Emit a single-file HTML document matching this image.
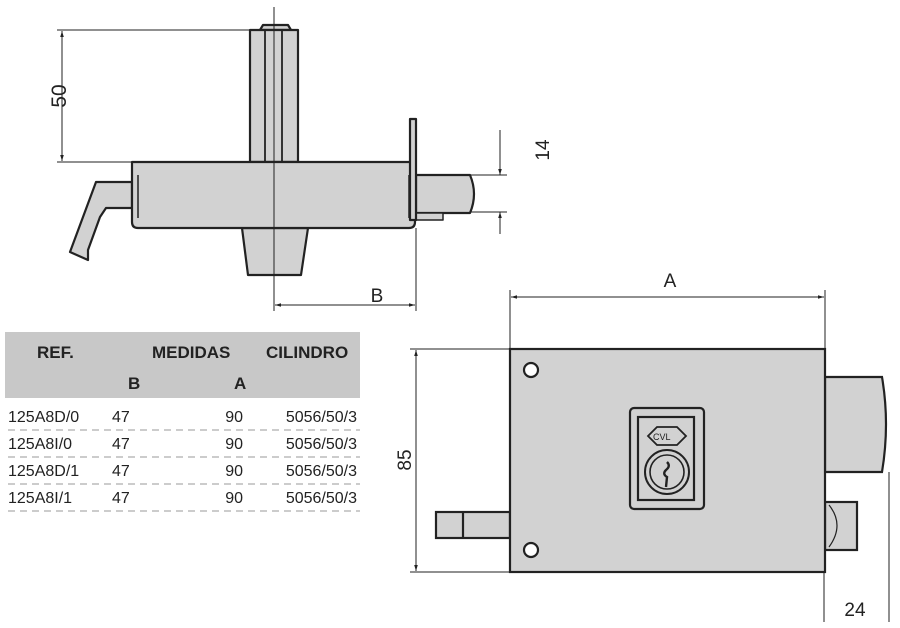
<!DOCTYPE html>
<html><head><meta charset="utf-8"><style>
body{margin:0;background:#fff;}
svg{display:block}
text{font-family:"Liberation Sans Narrow","Liberation Sans",sans-serif;fill:#222}
</style></head><body>
<svg width="900" height="628" viewBox="0 0 900 628" xmlns="http://www.w3.org/2000/svg">
<defs>
<marker id="ar" viewBox="0 0 10 10" refX="10" refY="5" markerWidth="8" markerHeight="6" orient="auto-start-reverse"><path d="M0,2 L10,5 L0,8z" fill="#222"/></marker>
</defs>
<g stroke="#222" fill="#d2d2d2" stroke-width="2.2" stroke-linejoin="round">
<!-- spindle -->
<path d="M260,30 L263,25 L288,25 L291,30 Z"/>
<rect x="250" y="30" width="48" height="132"/>
<line x1="265" y1="30" x2="265" y2="162" stroke-width="1.8"/>
<line x1="282" y1="30" x2="282" y2="162" stroke-width="1.8"/>
<!-- handle -->
<path d="M132,182 L96,182 L70,252 L88,260 L88,250 L100,217 L106,208 L132,208 Z"/>
<!-- knob bottom -->
<path d="M242,228 L308,228 L301,275 L248,275 Z"/>
<!-- bolt -->
<path d="M416,175 L470,175 Q478,194 470,213 L416,213 Z"/>
<path d="M416,213 L443,213 L443,220 L416,220 Z" stroke-width="1.5"/>
<!-- body -->
<path d="M132,162 L415,162 L415,222 Q415,228 409,228 L138,228 Q132,228 132,222 Z"/>
<line x1="138" y1="175" x2="138" y2="218" stroke-width="1.5"/>
<line x1="409" y1="175" x2="409" y2="218" stroke-width="1.5"/>
<!-- plate -->
<rect x="410" y="119" width="6" height="101"/>
</g>
<g stroke="#222" stroke-width="1" fill="none">
<line x1="274" y1="7" x2="274" y2="311"/>
<line x1="57" y1="30" x2="250" y2="30"/>
<line x1="57" y1="162" x2="132" y2="162"/>
<line x1="62" y1="31" x2="62" y2="161" marker-start="url(#ar)" marker-end="url(#ar)"/>
<line x1="416" y1="228" x2="416" y2="311"/>
<line x1="275" y1="305" x2="415" y2="305" marker-start="url(#ar)" marker-end="url(#ar)"/>
<line x1="470" y1="175" x2="507" y2="175"/>
<line x1="470" y1="212" x2="507" y2="212"/>
<line x1="500" y1="130" x2="500" y2="175" marker-end="url(#ar)"/>
<line x1="500" y1="234" x2="500" y2="212" marker-end="url(#ar)"/>
<!-- bottom view dims -->
<line x1="510" y1="290" x2="510" y2="349"/>
<line x1="825" y1="290" x2="825" y2="349"/>
<line x1="511" y1="297" x2="824" y2="297" marker-start="url(#ar)" marker-end="url(#ar)"/>
<line x1="410" y1="349" x2="510" y2="349"/>
<line x1="410" y1="572" x2="510" y2="572"/>
<line x1="416" y1="350" x2="416" y2="571" marker-start="url(#ar)" marker-end="url(#ar)"/>
<line x1="824" y1="572" x2="824" y2="622"/>
<line x1="889" y1="472" x2="889" y2="622"/>
</g>
<g stroke="#222" fill="#d2d2d2" stroke-width="2.2">
<rect x="436" y="512" width="74" height="26"/>
<line x1="463" y1="512" x2="463" y2="538"/>
<path d="M825,377 L882,377 Q890,424 882,472 L825,472 Z"/>
<rect x="825" y="502" width="32" height="48"/>
<path d="M829,505 Q845,525 829,547" fill="none" stroke-width="1.2"/>
<rect x="510" y="349" width="315" height="223"/>
<circle cx="531" cy="370" r="7" fill="#fff"/>
<circle cx="531" cy="550" r="7" fill="#fff"/>
<rect x="630" y="408" width="74" height="101" rx="4"/>
<rect x="638" y="417" width="56" height="83"/>
<path d="M648,436 L657,427 L677,427 L686,436 L677,445 L657,445 Z" stroke-width="1.8"/>
<circle cx="667" cy="472" r="22" stroke-width="2"/>
<circle cx="667" cy="472" r="17" stroke-width="1.6"/>
<path d="M667,462 Q671,466 666,470 Q662,474 667,477 L666,487" fill="none" stroke-width="2.4"/>
</g>
<text x="538" y="444" font-size="9" fill="#222" style="display:none"></text>
<text x="653" y="440" font-size="9">CVL</text>
<!-- dim labels -->
<text transform="translate(66,96) rotate(-90)" font-size="21" text-anchor="middle">50</text>
<text transform="translate(549,150) rotate(-90)" font-size="19" text-anchor="middle">14</text>
<text x="377" y="302" font-size="19" text-anchor="middle">B</text>
<text x="670" y="287" font-size="19" text-anchor="middle">A</text>
<text transform="translate(411,460) rotate(-90)" font-size="19" text-anchor="middle">85</text>
<text x="855" y="616" font-size="19" text-anchor="middle">24</text>
<!-- table -->
<rect x="5" y="332" width="355" height="66" fill="#c8c8c8"/>
<g font-size="17" font-weight="bold">
<text x="37" y="358">REF.</text>
<text x="152" y="358">MEDIDAS</text>
<text x="266" y="358">CILINDRO</text>
<text x="128" y="389">B</text>
<text x="234" y="389">A</text>
</g>
<g font-size="16">
<text x="8" y="422">125A8D/0</text><text x="112" y="422">47</text><text x="243" y="422" text-anchor="end">90</text><text x="357" y="422" text-anchor="end">5056/50/3</text>
<text x="8" y="449">125A8I/0</text><text x="112" y="449">47</text><text x="243" y="449" text-anchor="end">90</text><text x="357" y="449" text-anchor="end">5056/50/3</text>
<text x="8" y="476">125A8D/1</text><text x="112" y="476">47</text><text x="243" y="476" text-anchor="end">90</text><text x="357" y="476" text-anchor="end">5056/50/3</text>
<text x="8" y="503">125A8I/1</text><text x="112" y="503">47</text><text x="243" y="503" text-anchor="end">90</text><text x="357" y="503" text-anchor="end">5056/50/3</text>
</g>
<g stroke="#999" stroke-width="1" stroke-dasharray="7,5">
<line x1="8" y1="430" x2="360" y2="430"/>
<line x1="8" y1="457" x2="360" y2="457"/>
<line x1="8" y1="484" x2="360" y2="484"/>
<line x1="8" y1="511" x2="360" y2="511"/>
</g>
</svg>
</body></html>
